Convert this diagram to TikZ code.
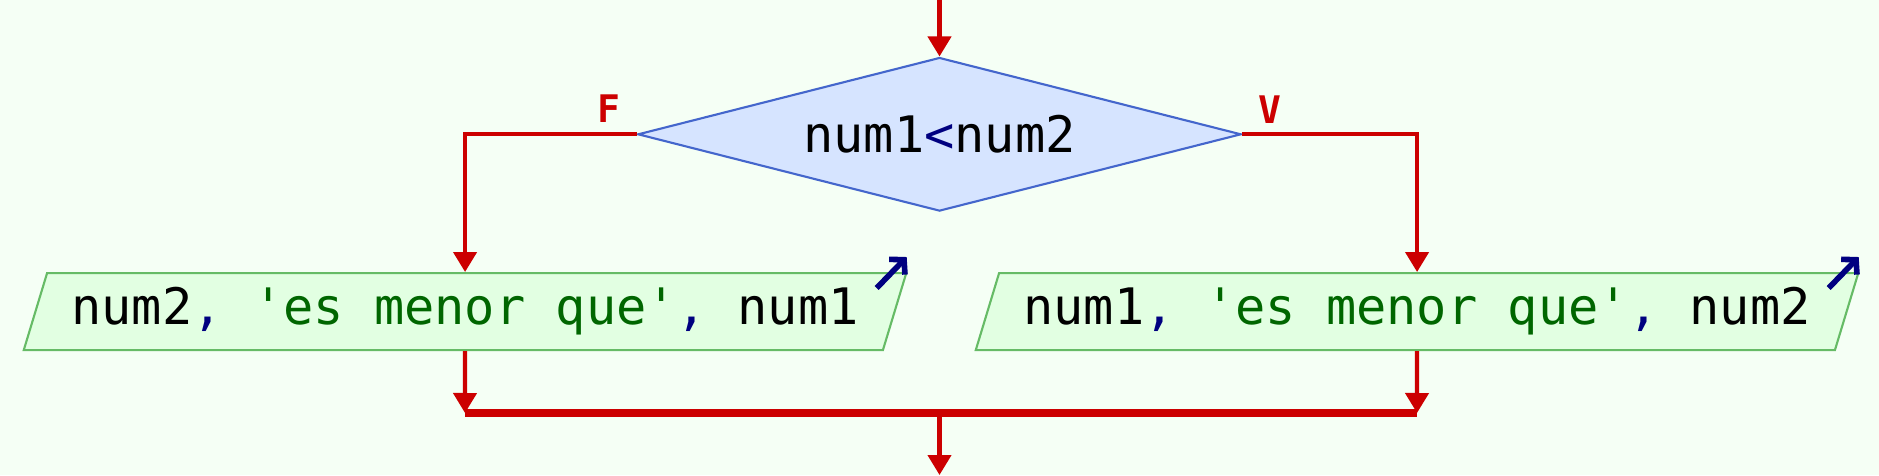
\documentclass[tikz,border=0pt]{standalone}
\usepackage{fontspec}
\setmonofont{DejaVu Sans Mono}
\usetikzlibrary{arrows.meta,shapes.geometric,positioning}

\definecolor{bgcol}{HTML}{F5FFF5}
\definecolor{flowred}{HTML}{CC0000}
\definecolor{condfill}{HTML}{D6E4FF}
\definecolor{conddraw}{HTML}{4466CC}
\definecolor{outfill}{HTML}{E2FFE2}
\definecolor{outdraw}{HTML}{66BB66}
\definecolor{opcol}{HTML}{000080}
\definecolor{strcol}{HTML}{006600}

\newcommand{\commasep}{\textcolor{opcol}{,}}
\newcommand{\strlit}[1]{\textcolor{strcol}{#1}}

\begin{document}
\begin{tikzpicture}[x=0.01cm,y=-0.01cm,
    every node/.style={font=\fontsize{14.3pt}{17pt}\selectfont\ttfamily},
    flow/.style={draw=flowred,line width=1.2pt,-{Triangle[width=0.23cm,length=0.2cm]}},
    flowline/.style={draw=flowred,line width=1.2pt},
    cond/.style={diamond,aspect=3.93,draw=conddraw,fill=condfill,line width=0.6pt,
                 inner sep=0pt,minimum width=6.03cm,minimum height=1.535cm},
    outbox/.style={trapezium,trapezium left angle=64,trapezium right angle=116,
                   trapezium stretches body,draw=outdraw,fill=outfill,line width=0.6pt,
                   inner sep=0pt,minimum width=8.82cm,minimum height=0.77cm},
    outmark/.style={draw=opcol,line width=1.6pt,line cap=butt,
                    -{Straight Barb[length=0.1cm,width=0.22cm]}},
    branch/.style={text=flowred,font=\fontsize{10.8pt}{12pt}\selectfont\ttfamily\bfseries}]
      \fill[bgcol] (0,0) rectangle (1879,475);
      \useasboundingbox (0,0) rectangle (1879,475);
      \coordinate (start) at (939.5,0);
      \node[cond] at (939.5,134.3) (test) {num1\textcolor{opcol}{<}num2};
      \node[branch] at (609,109) (lblF) {F};
      \node[branch] at (1270,110) (lblV) {V};
      \node[outbox] at (465,311.6) (outF) {num2\commasep{} \strlit{'es menor que'}\commasep{} num1};
      \node[outbox] at (1417,311.6) (outV) {num1\commasep{} \strlit{'es menor que'}\commasep{} num2};
      \coordinate (joinF) at (465,413);
      \coordinate (joinV) at (1417,413);
      \coordinate (join) at (939.5,413);
      \coordinate (stop) at (939.5,475);
      \draw[flow] (start) -- (test.north);
      \draw[flow] (test.west) -| (outF.north);
      \draw[flow] (test.east) -| (outV.north);
      \draw[flow] (outF.south) -- (joinF);
      \draw[flow] (outV.south) -- (joinV);
      \draw[flowline,line width=2pt] (joinF) -- (joinV);
      \draw[flow] (join) -- (stop);
      \draw[outmark] ([shift={(-31,16)}]outF.top right corner) -- ([shift={(-1,-15)}]outF.top right corner);
      \draw[outmark] ([shift={(-31,16)}]outV.top right corner) -- ([shift={(-1,-15)}]outV.top right corner);
\end{tikzpicture}
\end{document}
